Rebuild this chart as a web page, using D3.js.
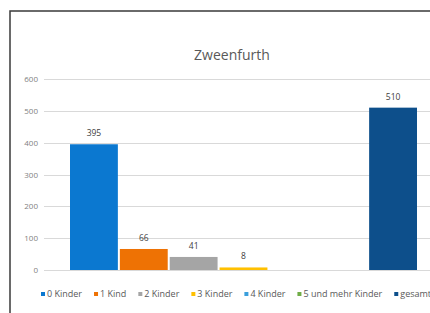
<!DOCTYPE html>
<html>
<head>
<meta charset="utf-8">
<script src="https://cdn.jsdelivr.net/npm/d3@7"></script>
<style>
  body { margin: 0; background: #fff; }
  svg { display: block; font-family: "Open Sans", sans-serif; }
</style>
</head>
<body>
<svg id="chart" width="430" height="313"></svg>
<script>
// data
var title = "Zweenfurth";
var series = ["0 Kinder", "1 Kind", "2 Kinder", "3 Kinder", "4 Kinder", "5 und mehr Kinder", "gesamt"];
var values = [395, 66, 41, 8, null, null, 510];
var colors = ["#0b78d0", "#ee7204", "#a5a5a5", "#ffc000", "#3a9fdc", "#70ad47", "#0d4f8b"];
var yTicks = [0, 100, 200, 300, 400, 500, 600];

var svg = d3.select("#chart");

// outer frame (right side runs off the picture)
svg.append("rect")
  .attr("x", 10)
  .attr("y", 11)
  .attr("width", 460)
  .attr("height", 320)
  .style("fill", "#fff")
  .style("stroke", "#3a3a3a")
  .style("stroke-width", 1.5);

svg.append("text")
  .attr("x", 232)
  .attr("y", 60)
  .attr("text-anchor", "middle")
  .style("font-size", "14px")
  .style("fill", "#595959")
  .text(title);

var y = d3.scaleLinear().domain([0, 600]).range([270, 79]);
var x = d3.scaleBand().domain(series).range([70, 417]).paddingInner(0.04).paddingOuter(0);

// gridlines
svg.append("g")
  .selectAll("line")
  .data(yTicks)
  .enter().append("line")
  .attr("x1", 44)
  .attr("x2", 430)
  .attr("y1", function(d) { return Math.round(y(d)) + 0.5; })
  .attr("y2", function(d) { return Math.round(y(d)) + 0.5; })
  .style("stroke", "#d9d9d9")
  .style("stroke-width", 1);

// y axis labels
var yAxis = d3.axisLeft(y).tickValues(yTicks).tickSize(0).tickPadding(0);
var gy = svg.append("g").attr("transform", "translate(38,0)").call(yAxis);
gy.select(".domain").remove();
gy.selectAll("text")
  .style("font-family", "Open Sans, sans-serif")
  .style("font-size", "8px")
  .style("fill", "#7f7f7f");

// bars
var rows = series.map(function(s, i) { return { name: s, value: values[i], color: colors[i] }; })
  .filter(function(d) { return d.value != null; });

svg.append("g")
  .selectAll("rect")
  .data(rows)
  .enter().append("rect")
  .attr("x", function(d) { return x(d.name); })
  .attr("y", function(d) { return y(d.value); })
  .attr("width", x.bandwidth())
  .attr("height", function(d) { return y(0) - y(d.value); })
  .style("fill", function(d) { return d.color; });

svg.append("g")
  .selectAll("text")
  .data(rows)
  .enter().append("text")
  .attr("x", function(d) { return x(d.name) + x.bandwidth() / 2; })
  .attr("y", function(d) { return y(d.value) - 8; })
  .attr("text-anchor", "middle")
  .style("font-size", "8.5px")
  .style("fill", "#404040")
  .text(function(d) { return d.value; });

// legend
var legend = svg.append("g");
var lx = 41;
series.forEach(function(s, i) {
  legend.append("rect")
    .attr("x", lx)
    .attr("y", 292)
    .attr("width", 4)
    .attr("height", 4)
    .style("fill", colors[i]);
  var t = legend.append("text")
    .attr("x", lx + 6)
    .attr("y", 297)
    .style("font-size", "9px")
    .style("fill", "#595959")
    .text(s);
  lx += 6 + t.node().getComputedTextLength() + 12;
});
</script>
</body>
</html>
